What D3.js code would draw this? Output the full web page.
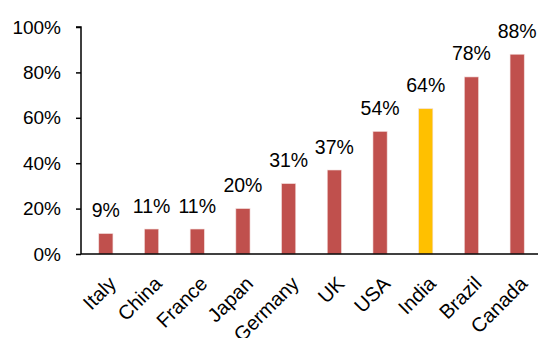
<!DOCTYPE html>
<html><head><meta charset="utf-8">
<script src="https://cdn.jsdelivr.net/npm/d3@7"></script>
<style>body{margin:0;background:#fff}text{font-family:Arial,"Liberation Sans",sans-serif;fill:#000}</style>
</head><body>
<svg id="c" width="538" height="338"></svg>
<script>
const categories = ["Italy","China","France","Japan","Germany","UK","USA","India","Brazil","Canada"];
const values = [9,11,11,20,31,37,54,64,78,88];
const highlight = ["India"];
const yTicks = [0,20,40,60,80,100];

const svg = d3.select("#c");
const x = d3.scaleBand().domain(categories).range([83,540]).paddingInner(0.69).paddingOuter(0.345);
const y = d3.scaleLinear().domain([0,100]).range([254,27]);

// bars
svg.append("g").selectAll("rect").data(categories).join("rect")
  .attr("x", d=>x(d)).attr("width", x.bandwidth())
  .attr("y", (d,i)=>y(values[i])).attr("height",(d,i)=>y(0)-y(values[i]))
  .attr("fill", d=>highlight.includes(d)?"#FFC000":"#C0504D")
  .attr("stroke","#f2dcdb").attr("stroke-width",0.6);

// value labels
svg.append("g").selectAll("text").data(categories).join("text")
  .attr("x", d=>x(d)+x.bandwidth()/2).attr("y",(d,i)=>y(values[i])-16.5)
  .attr("text-anchor","middle").attr("font-size",19.5)
  .text((d,i)=>values[i]+"%");

// y axis
const ya = svg.append("g").attr("transform","translate(81,0)")
  .call(d3.axisLeft(y).tickValues(yTicks).tickFormat(d=>d+"%").tickSize(5).tickPadding(15));
ya.select(".domain").attr("stroke","#000").attr("stroke-width",1.5).attr("d","M-5,27H0V254");
ya.selectAll(".tick line").attr("stroke","#000").attr("stroke-width",1.5);
ya.selectAll(".tick text").attr("font-size",19).attr("font-family","Arial, 'Liberation Sans', sans-serif").attr("fill","#000");

// x axis line
svg.append("line").attr("x1",81).attr("x2",538).attr("y1",254).attr("y2",254)
  .attr("stroke","#000").attr("stroke-width",1.5);

// x labels
svg.append("g").selectAll("text").data(categories).join("text")
  .attr("transform", d=>`translate(${x(d)+x.bandwidth()/2+6.5},${280}) rotate(-45)`)
  .attr("text-anchor","end").attr("font-size",20)
  .attr("dy","0.35em")
  .text(d=>d);
</script>
</body></html>
